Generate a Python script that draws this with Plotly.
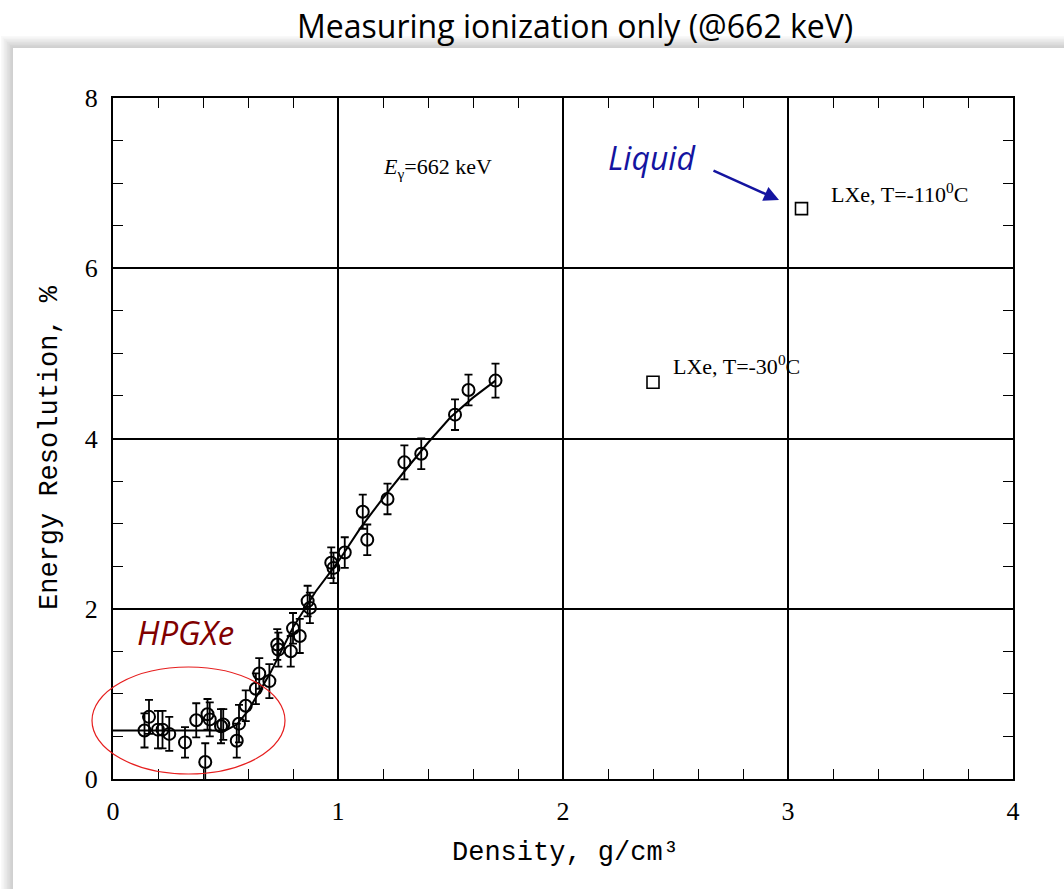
import plotly.graph_objects as go

# --- data ---
density = [0.14, 0.16, 0.20, 0.22, 0.25, 0.32, 0.37, 0.41, 0.42, 0.43, 0.48, 0.49,
           0.55, 0.56, 0.59, 0.635, 0.65, 0.695, 0.73, 0.735, 0.79, 0.80, 0.83,
           0.865, 0.875, 0.97, 0.98, 1.03, 1.11, 1.13, 1.22, 1.295, 1.37, 1.52,
           1.58, 1.70]
resolution = [0.57, 0.73, 0.58, 0.58, 0.53, 0.43, 0.69, 0.20, 0.76, 0.70, 0.62, 0.64,
              0.45, 0.65, 0.86, 1.06, 1.24, 1.15, 1.58, 1.52, 1.50, 1.77, 1.68,
              2.09, 2.01, 2.54, 2.48, 2.66, 3.14, 2.81, 3.29, 3.72, 3.82, 4.28,
              4.57, 4.68]
res_err = [0.20, 0.20, 0.22, 0.22, 0.20, 0.18, 0.20, 0.22, 0.18, 0.20, 0.20, 0.18,
           0.20, 0.22, 0.18, 0.18, 0.18, 0.20, 0.18, 0.20, 0.18, 0.18, 0.20,
           0.18, 0.18, 0.18, 0.18, 0.18, 0.20, 0.18, 0.18, 0.20, 0.18, 0.18,
           0.18, 0.20]

fit_density = [0.0, 0.5, 0.55, 0.6, 0.7, 0.8, 0.9, 1.0, 1.1, 1.2, 1.3, 1.4, 1.5, 1.6, 1.7]
fit_resolution = [0.57, 0.57, 0.64, 0.80, 1.25, 1.78, 2.20, 2.55, 2.95, 3.30, 3.63, 3.95,
                  4.25, 4.48, 4.68]

lxe_density = [3.06, 2.40]
lxe_resolution = [6.70, 4.66]
lxe_labels = ["LXe, T=-110<sup>0</sup>C", "LXe, T=-30<sup>0</sup>C"]
lxe_label_x = [3.18, 2.48]
lxe_label_y = [6.88, 4.86]

x_ticks = [0, 1, 2, 3, 4]
y_ticks = [0, 2, 4, 6, 8]

W, H = 1064, 889
L, R, T, B = 113, 51, 98, 110
PW, PH = W - L - R, H - T - B


def px(x):
    return (x - L) / PW


def py(y):
    return (H - B - y) / PH


fig = go.Figure()

fig.add_trace(go.Scatter(
    x=fit_density, y=fit_resolution, mode="lines",
    line=dict(color="black", width=2), showlegend=False, hoverinfo="skip"))

fig.add_trace(go.Scatter(
    x=density, y=resolution, mode="markers",
    marker=dict(symbol="circle-open", size=12, color="black", line=dict(width=2)),
    error_y=dict(type="data", array=res_err, color="black", thickness=1.8, width=4),
    showlegend=False))

fig.add_trace(go.Scatter(
    x=lxe_density, y=lxe_resolution, mode="markers",
    marker=dict(symbol="square-open", size=12, color="black", line=dict(width=1.6)),
    showlegend=False))

serif = "Liberation Serif"
mono = "Liberation Mono"

fig.update_xaxes(
    range=[0, 4], tickvals=x_ticks, ticktext=[str(v) for v in x_ticks],
    ticks="inside", ticklen=16, tickwidth=1.5, tickcolor="black",
    minor=dict(dtick=0.2, ticks="inside", ticklen=10, tickwidth=1.2, tickcolor="black",
               showgrid=False),
    showgrid=True, gridcolor="black", gridwidth=1.5,
    showline=True, linecolor="black", linewidth=2, mirror="allticks",
    zeroline=False, ticklabelstandoff=8,
    tickfont=dict(family=serif, size=26, color="black"))

fig.update_yaxes(
    range=[0, 8], tickvals=y_ticks, ticktext=[str(v) for v in y_ticks],
    ticks="inside", ticklen=16, tickwidth=1.5, tickcolor="black",
    minor=dict(dtick=0.5, ticks="inside", ticklen=10, tickwidth=1.2, tickcolor="black",
               showgrid=False),
    showgrid=True, gridcolor="black", gridwidth=1.5,
    showline=True, linecolor="black", linewidth=2, mirror="allticks",
    zeroline=False, ticklabelstandoff=8,
    tickfont=dict(family=serif, size=26, color="black"))

shapes = []
# soft shadow around the picture frame
for i in range(8, 0, -1):
    shapes.append(dict(type="rect", xref="paper", yref="paper",
                       x0=px(13 - i * 1.5), x1=px(W + 20), y0=py(H + 20), y1=py(48 - i * 1.5),
                       fillcolor="rgba(0,0,0,0.025)", line=dict(width=0), layer="below"))
shapes.append(dict(type="rect", xref="paper", yref="paper",
                   x0=px(13), x1=px(W + 20), y0=py(H + 20), y1=py(48),
                   fillcolor="white", line=dict(width=0), layer="below"))
# red ellipse around HPGXe points
shapes.append(dict(type="circle", xref="paper", yref="paper",
                   x0=px(92), x1=px(285), y0=py(774), y1=py(667),
                   line=dict(color="rgb(230,30,30)", width=1.2), fillcolor="rgba(0,0,0,0)"))
fig.update_layout(shapes=shapes)

blue = "rgb(20,20,160)"
C = dict(xanchor="center", yanchor="middle", showarrow=False, xref="paper", yref="paper")
annotations = [
    dict(text="Measuring ionization only (@662 keV)", x=px(575), y=py(25),
         font=dict(family="Open Sans", size=32, color="black"), **C),
    dict(text="Density, g/cm³", x=px(565), y=py(853),
         font=dict(family=mono, size=27, color="black"), **C),
    dict(text="Energy Resolution, %", x=px(50), y=py(448), textangle=-90,
         font=dict(family=mono, size=27, color="black"), **C),
    dict(text="<i>E</i><sub>γ</sub>=662 keV", x=px(437), y=py(168),
         font=dict(family=serif, size=22, color="black"), **C),
    dict(text="<i>Liquid</i>", x=px(652), y=py(157),
         font=dict(family="Open Sans", size=32, color=blue), **C),
    dict(text="<i>HPGXe</i>", x=px(185), y=py(632),
         font=dict(family="Open Sans", size=33, color="rgb(128,0,0)"), **C),
    dict(text="", x=px(779), y=py(200), ax=712 - 779, ay=170 - 200,
         xref="paper", yref="paper", axref="pixel", ayref="pixel",
         showarrow=True, arrowhead=2, arrowsize=1.2, arrowwidth=2.5,
         arrowcolor=blue),
]
for xv, yv, lab in zip(lxe_label_x, lxe_label_y, lxe_labels):
    annotations.append(dict(text=lab, x=xv, y=yv, xref="x", yref="y",
                            xanchor="left", yanchor="middle", showarrow=False,
                            font=dict(family=serif, size=22, color="black")))
fig.update_layout(annotations=annotations)

fig.update_layout(
    width=W, height=H, margin=dict(l=L, r=R, t=T, b=B),
    paper_bgcolor="white", plot_bgcolor="rgba(0,0,0,0)",
    showlegend=False)

fig.write_html("out.html")
